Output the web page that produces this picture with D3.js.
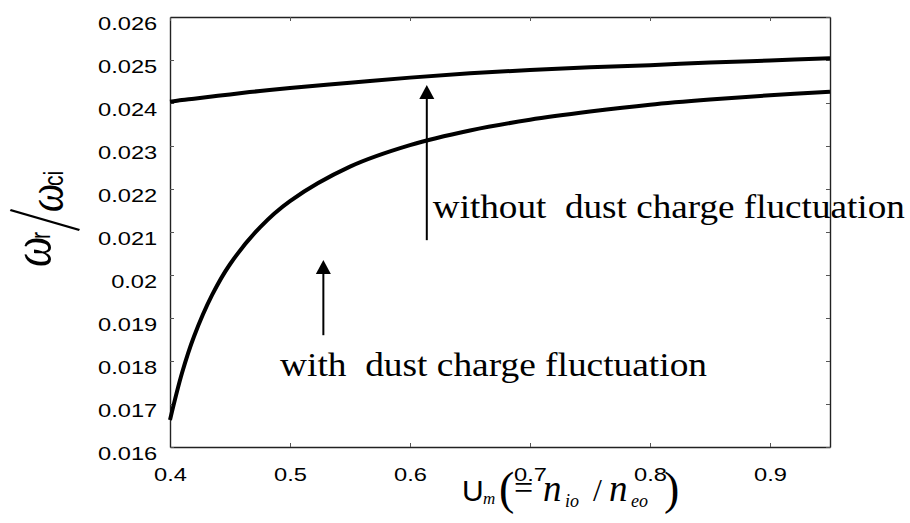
<!DOCTYPE html>
<html>
<head>
<meta charset="utf-8">
<script src="https://cdn.jsdelivr.net/npm/d3@7"></script>
<style>
  body { margin: 0; background: #fff; }
  .tick text { font-family: "Liberation Sans", Arial, sans-serif; font-size: 18.5px; fill: #000; }
  .ann { font-family: "Liberation Serif", "Times New Roman", serif; font-size: 33px; fill: #000; white-space: pre; }
</style>
</head>
<body>
<div id="chart"></div>
<script>
// chart values
var uValues = [0.40, 0.41, 0.42, 0.435, 0.45, 0.475, 0.50, 0.55, 0.60, 0.65, 0.70, 0.75, 0.80, 0.85, 0.90, 0.95];
var withoutFluct = [0.02403, 0.02407, 0.02410, 0.02415, 0.02420, 0.02428, 0.02435, 0.02447, 0.02459, 0.02469, 0.02477, 0.02483, 0.02488, 0.02494, 0.02499, 0.02504];
var withFluct = [0.01663, 0.01772, 0.01857, 0.01953, 0.02025, 0.02111, 0.02172, 0.02252, 0.02302, 0.02336, 0.02361, 0.02380, 0.02396, 0.02408, 0.02418, 0.02426];

var xTicks = [0.4, 0.5, 0.6, 0.7, 0.8, 0.9];
var yTicks = [0.016, 0.017, 0.018, 0.019, 0.020, 0.021, 0.022, 0.023, 0.024, 0.025, 0.026];
var yTickLabels = ["0.016", "0.017", "0.018", "0.019", "0.02", "0.021", "0.022", "0.023", "0.024", "0.025", "0.026"];

// annotation labels and arrows (data coordinates)
var annLabels = ["without  dust charge fluctuation", "with  dust charge fluctuation"];
var annLabelPos = [[0.619, 0.02133], [0.4917, 0.01765]];
var annLabelWidth = [472, 427];
var arrows = [[0.614, 0.02081, 0.02442], [0.5278, 0.0186, 0.02035]];

// set the dimensions and margins of the graph
var margin = {top: 17, right: 80, bottom: 76, left: 170},
    width = 910 - margin.left - margin.right,
    height = 523 - margin.top - margin.bottom;

var svg = d3.select("#chart")
  .append("svg")
    .attr("width", 910)
    .attr("height", 523)
  .append("g")
    .attr("transform", "translate(" + margin.left + "," + margin.top + ")");

var x = d3.scaleLinear()
  .domain([0.4, 0.95])
  .range([0, width]);
var y = d3.scaleLinear()
  .domain([0.016, 0.026])
  .range([height, 0]);

// axes, ticks pointing inward on all four sides
var stretch = 1.28;

var gx = svg.append("g")
  .attr("transform", "translate(0," + height + ")")
  .call(d3.axisBottom(x).tickValues(xTicks).tickSize(-4).tickSizeOuter(0).tickPadding(21)
    .tickFormat(d3.format(".1f")));
gx.selectAll("text").attr("transform", "scale(" + stretch + ",1)");

var gy = svg.append("g")
  .call(d3.axisLeft(y).tickValues(yTicks).tickSize(-4).tickSizeOuter(0).tickPadding(10)
    .tickFormat(function(d, i) { return yTickLabels[i]; }));
gy.selectAll("text").attr("dy", "0.7em").attr("transform", "scale(" + stretch + ",1)");

svg.append("g")
  .call(d3.axisTop(x).tickValues(xTicks).tickSize(-4).tickSizeOuter(0).tickFormat(""));
svg.append("g")
  .attr("transform", "translate(" + width + ",0)")
  .call(d3.axisRight(y).tickValues(yTicks).tickSize(-4).tickSizeOuter(0).tickFormat(""));

svg.selectAll(".domain").attr("stroke", "#222").attr("stroke-width", 1.4);
svg.selectAll(".tick line").attr("stroke", "#555").attr("stroke-width", 1);

// curves
var line = d3.line()
  .x(function(d) { return x(d[0]); })
  .y(function(d) { return y(d[1]); })
  .curve(d3.curveCatmullRom.alpha(0.5));

[withoutFluct, withFluct].forEach(function(series) {
  svg.append("path")
    .datum(uValues.map(function(u, i) { return [u, series[i]]; }))
    .attr("fill", "none")
    .attr("stroke", "#000")
    .attr("stroke-width", 4)
    .attr("d", line);
});

// arrows
arrows.forEach(function(a) {
  var ax = x(a[0]), y0 = y(a[1]), y1 = y(a[2]);
  svg.append("line")
    .attr("x1", ax).attr("x2", ax)
    .attr("y1", y0).attr("y2", y1 + 12)
    .attr("stroke", "#000")
    .attr("stroke-width", 2);
  svg.append("path")
    .attr("d", "M" + ax + "," + y1 + "L" + (ax - 7.5) + "," + (y1 + 14) + "L" + (ax + 7.5) + "," + (y1 + 14) + "Z")
    .attr("fill", "#000");
});

// annotation text
annLabels.forEach(function(t, i) {
  svg.append("text")
    .attr("class", "ann")
    .attr("x", x(annLabelPos[i][0]))
    .attr("y", y(annLabelPos[i][1]))
    .attr("textLength", annLabelWidth[i])
    .attr("lengthAdjust", "spacingAndGlyphs")
    .text(t);
});

// y axis label: omega_r / omega_ci, rotated
var root = d3.select("#chart svg");
var ylab = root.append("g")
  .attr("transform", "translate(50,267) rotate(-90) scale(1," + stretch + ")");
ylab.append("text")
  .attr("x", 0).attr("y", 0)
  .style("font-family", "'Liberation Serif', serif")
  .style("font-style", "italic")
  .style("font-size", "43px")
  .text("ω");
ylab.append("text")
  .attr("x", 28).attr("y", 0)
  .style("font-family", "'Liberation Sans', sans-serif")
  .style("font-size", "21px")
  .text("r");
ylab.append("line")
  .attr("x1", 37).attr("y1", 23)
  .attr("x2", 57).attr("y2", -31)
  .attr("stroke", "#000")
  .attr("stroke-width", 2.2);
ylab.append("text")
  .attr("x", 55).attr("y", 10)
  .style("font-family", "'Liberation Serif', serif")
  .style("font-style", "italic")
  .style("font-size", "40px")
  .text("ω");
ylab.append("text")
  .attr("x", 81).attr("y", 10)
  .style("font-family", "'Liberation Sans', sans-serif")
  .style("font-size", "21px")
  .text("ci");

// x axis label: u_m (= n_io / n_eo)
var xlab = root.append("g").attr("transform", "translate(0,501)");
var serif = "'Liberation Serif', serif";
var parts = [
  {t: "U", x: 462, y: 0, size: 30, fam: "'Liberation Sans', sans-serif", it: false},
  {t: "m", x: 483, y: 3, size: 17, fam: serif, it: true},
  {t: "(", x: 499, y: 3, size: 46, fam: serif, it: false},
  {t: "=", x: 514, y: -2, size: 34, fam: serif, it: false},
  {t: "n", x: 543, y: 0, size: 37, fam: serif, it: true},
  {t: "io", x: 565, y: 6, size: 18, fam: serif, it: true},
  {t: "/", x: 593, y: 0, size: 32, fam: serif, it: false},
  {t: "n", x: 609, y: 0, size: 37, fam: serif, it: true},
  {t: "eo", x: 631, y: 6, size: 18, fam: serif, it: true},
  {t: ")", x: 664, y: 3, size: 46, fam: serif, it: false}
];
parts.forEach(function(p) {
  xlab.append("text")
    .attr("x", p.x).attr("y", p.y)
    .style("font-family", p.fam)
    .style("font-style", p.it ? "italic" : "normal")
    .style("font-size", p.size + "px")
    .text(p.t);
});
</script>
</body>
</html>
